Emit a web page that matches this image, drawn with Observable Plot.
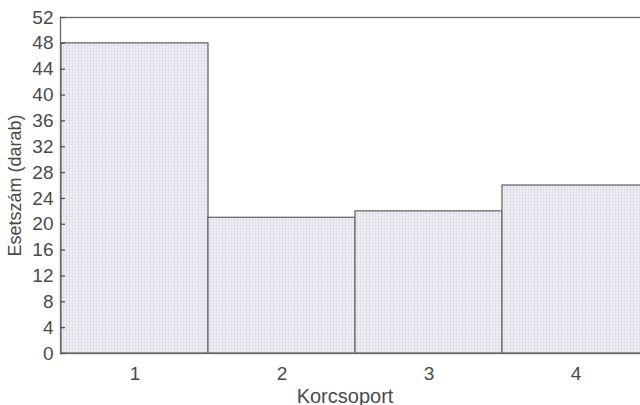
<!DOCTYPE html>
<html>
<head>
<meta charset="utf-8">
<script src="https://cdn.jsdelivr.net/npm/d3@7"></script>
<script src="https://cdn.jsdelivr.net/npm/@observablehq/plot@0.6"></script>
<style>
  html, body { margin: 0; padding: 0; background: #fff; overflow: hidden; }
  #chart { width: 640px; height: 405px; overflow: hidden; position: relative; }
  #chart svg { display: block; max-width: none !important; width: 650px !important; height: 405px !important; }
  #chart g[aria-label$="tick label"] text { font-size: 19px !important; }
</style>
</head>
<body>
<svg width="0" height="0" style="position:absolute">
  <defs>
    <!-- fine cross-hatch used as the bar fill -->
    <pattern id="grain" width="3" height="3" patternUnits="userSpaceOnUse">
      <rect width="3" height="3" fill="#efeff4"></rect>
      <rect x="0" y="0" width="1" height="3" fill="#dcdce6"></rect>
      <rect x="0" y="0" width="3" height="1" fill="#e2e2ea"></rect>
    </pattern>
  </defs>
</svg>
<div id="chart"></div>
<script>
// Age groups and case counts
const groups = ["1", "2", "3", "4"];
const counts = [48, 21, 22, 26];
const yTicks = [0, 4, 8, 12, 16, 20, 24, 28, 32, 36, 40, 44, 48, 52];

const data = groups.map((g, i) => ({group: g, count: counts[i]}));

const chart = Plot.plot({
  width: 650,
  height: 405,
  marginLeft: 60,
  marginRight: 1,
  marginTop: 17,
  marginBottom: 52,
  style: {fontFamily: "'Liberation Sans', Arial, sans-serif", fontSize: "18px", color: "#4a4a4a", background: "transparent"},
  x: {domain: groups, padding: 0},
  y: {domain: [0, 52]},
  marks: [
    Plot.barY(data, {x: "group", y: "count", fill: "url(#grain)", stroke: "#6a6a6a", strokeWidth: 1.3}),
    Plot.frame({stroke: "#6a6a6a", strokeWidth: 1.3}),
    Plot.axisY(yTicks, {tickSize: 0, tickPadding: 7, label: null, fill: "#4a4a4a"}),
    // short inward tick marks along the left edge
    Plot.axisY(yTicks, {tickSize: 5, dx: 5, tickFormat: () => "", label: null, stroke: "#555", strokeWidth: 1.3}),
    Plot.axisX({tickSize: 0, tickPadding: 13, label: null, fill: "#4a4a4a"}),
    Plot.text(["Esetszám (darab)"], {frameAnchor: "left", textAnchor: "middle", rotate: -90, dx: -45, fontSize: 18, fill: "#4a4a4a"}),
    Plot.text(["Korcsoport"], {frameAnchor: "bottom", dy: 49, dx: -10, fontSize: 20, fill: "#4a4a4a", letterSpacing: 0.8})
  ]
});
document.getElementById("chart").append(chart);
</script>
</body>
</html>
